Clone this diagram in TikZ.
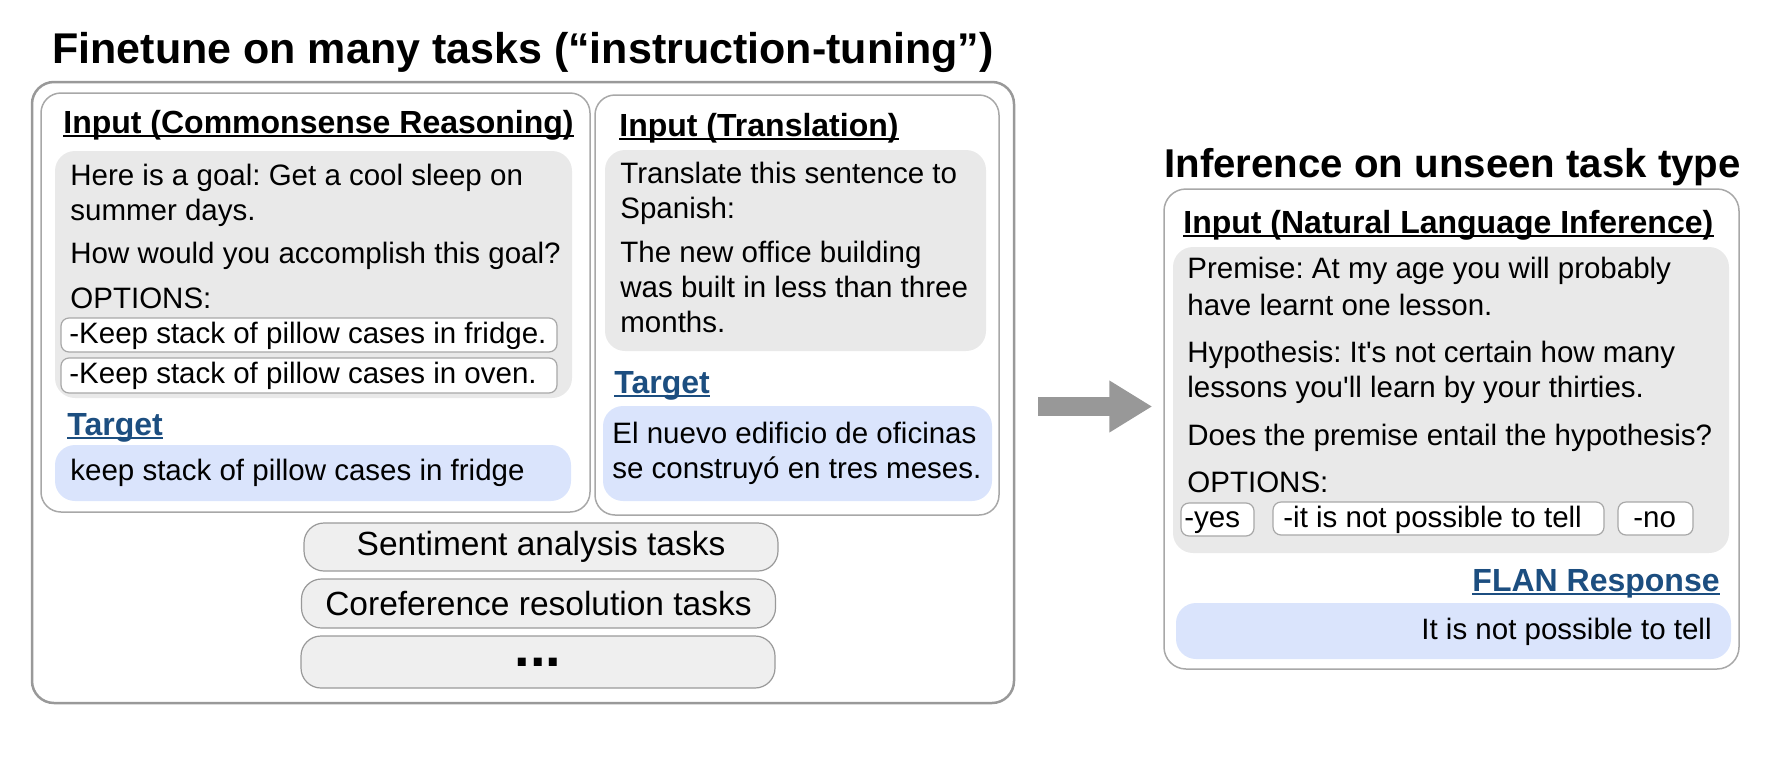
\documentclass[tikz,border=0pt]{standalone}
\usepackage{fontspec}
\setmainfont{Liberation Sans}
\usetikzlibrary{arrows.meta}
\frenchspacing
\definecolor{framegray}{RGB}{153,153,153}
\definecolor{panelgray}{RGB}{168,168,168}
\definecolor{inputfill}{RGB}{233,233,233}
\definecolor{targetfill}{RGB}{218,228,252}
\definecolor{taskfill}{RGB}{239,239,239}
\definecolor{targetblue}{RGB}{28,78,128}
\definecolor{arrowgray}{RGB}{152,152,152}
\tikzset{
  bigframe/.style={draw=framegray,line width=1.25pt,rounded corners=11pt},
  panel/.style={draw=panelgray,line width=0.75pt,rounded corners=10pt},
  inputbox/.style={fill=inputfill,rounded corners=10pt},
  targetbox/.style={fill=targetfill,rounded corners=10pt},
  optbox/.style={draw=panelgray,fill=white,line width=0.6pt,rounded corners=4pt},
  taskbox/.style={draw=framegray,fill=taskfill,line width=0.6pt,rounded corners=10pt,minimum width=237pt,minimum height=24pt,font=\fontsize{16.75}{20}\selectfont},
  txt/.style={anchor=base west,inner sep=0pt,font=\fontsize{14.75}{17}\selectfont},
  heading/.style={anchor=base west,inner sep=0pt,font=\fontsize{16}{19}\selectfont\bfseries},
  title/.style={anchor=base west,inner sep=0pt,font=\fontsize{21.5}{25}\selectfont\bfseries},
  uline/.style={line width=1.1pt},
}
\begin{document}
\begin{tikzpicture}[x=0.5pt,y=-0.5pt]
  \useasboundingbox (0,0) rectangle (1782,766);
  % Finetune side
  \node[title] (tunetitle) at (52,63) {Finetune on many tasks (“instruction-tuning”)};
  \node[bigframe,minimum width=491pt,minimum height=310.5pt] (tune) at (523,392.5) {};
  \draw[panel] (41,93) rectangle (590,512); % Commonsense
  \draw[panel] (595,95) rectangle (999,515); % Translation

  \node[heading] (csr) at (63,133) {Input (Commonsense Reasoning)};
  \draw[uline] ([yshift=-1.5pt]csr.base west) -- ([yshift=-1.5pt]csr.base east);
  \fill[inputbox] (55,151) rectangle (572,398);
  \node[txt] (goala) at (70,185) {Here is a goal: Get a cool sleep on};
  \node[txt] (goalb) at (70,220) {summer days.};
  \node[txt] (howq) at (70,263) {How would you accomplish this goal?};
  \node[txt] (optsa) at (70,308) {OPTIONS:};
  \filldraw[optbox] (61,318) rectangle (557,352);
  \node[txt] (fridge) at (69,343) {-Keep stack of pillow cases in fridge.};
  \filldraw[optbox] (61,358) rectangle (557,393);
  \node[txt] (oven) at (69,383) {-Keep stack of pillow cases in oven.};
  \node[heading,text=targetblue] (tgta) at (67,435) {Target};
  \draw[uline,targetblue] ([yshift=-1.5pt]tgta.base west) -- ([yshift=-1.5pt]tgta.base east);
  \fill[targetbox] (55,445) rectangle (571,501);
  \node[txt] (ansa) at (70,480) {keep stack of pillow cases in fridge};

  \node[heading] (trl) at (619,136) {Input (Translation)};
  \draw[uline] ([yshift=-1.5pt]trl.base west) -- ([yshift=-1.5pt]trl.base east);
  \fill[inputbox] (605,150) rectangle (986,351);
  \node[txt] (trla) at (620,183) {Translate this sentence to};
  \node[txt] (trlb) at (620,218) {Spanish:};
  \node[txt] (trlc) at (620,262) {The new office building};
  \node[txt] (trld) at (620,297) {was built in less than three};
  \node[txt] (trle) at (620,332) {months.};
  \node[heading,text=targetblue] (tgtb) at (614,393) {Target};
  \draw[uline,targetblue] ([yshift=-1.5pt]tgtb.base west) -- ([yshift=-1.5pt]tgtb.base east);
  \fill[targetbox] (603,406) rectangle (992,501);
  \node[txt] (ansb) at (612,443) {El nuevo edificio de oficinas};
  \node[txt] (ansc) at (612,478) {se construyó en tres meses.};

  \node[taskbox] (senti) at (541,547) {Sentiment analysis tasks};
  \node[taskbox,minimum height=24.5pt] (coref) at (538.5,603.5) {Coreference resolution tasks};
  \node[taskbox,minimum height=26pt] (more) at (538,662) {\fontsize{28}{30}\selectfont\bfseries\raisebox{-1.5pt}{...}};

  % Inference side
  \node[title,font=\fontsize{20.1}{24}\selectfont\bfseries] (infertitle) at (1164,177) {Inference on unseen task type};
  \node[panel,rounded corners=11pt,minimum width=287.5pt,minimum height=240pt] (infer) at (1451.5,429) {};
  \node[heading] (nli) at (1183,233) {Input (Natural Language Inference)};
  \draw[uline] ([yshift=-1.5pt]nli.base west) -- ([yshift=-1.5pt]nli.base east);
  \fill[inputbox] (1173,247) rectangle (1729,553);
  \node[txt] (prema) at (1187,278) {Premise: At my age you will probably};
  \node[txt] (premb) at (1187,315) {have learnt one lesson.};
  \node[txt] (hypa) at (1187,362) {Hypothesis: It\textquotesingle s not certain how many};
  \node[txt] (hypb) at (1187,397) {lessons you\textquotesingle ll learn by your thirties.};
  \node[txt] (doesq) at (1187,445) {Does the premise entail the hypothesis?};
  \node[txt] (optsb) at (1187,492) {OPTIONS:};
  \filldraw[optbox] (1181,503) rectangle (1254,536);
  \node[txt] (yes) at (1184,527) {-yes};
  \filldraw[optbox] (1273,502) rectangle (1604,535);
  \node[txt] (maybe) at (1283,527) {-it is not possible to tell};
  \filldraw[optbox] (1618,502) rectangle (1693,535);
  \node[txt] (no) at (1633,527) {-no};
  \node[heading,anchor=base east,text=targetblue] (flan) at (1720,591) {FLAN Response};
  \draw[uline,targetblue] ([yshift=-1.5pt]flan.base west) -- ([yshift=-1.5pt]flan.base east);
  \fill[targetbox] (1176,603) rectangle (1731,659);
  \node[txt,anchor=base east] (pred) at (1712,639) {It is not possible to tell};

  % Arrow
  \coordinate (arrowmid) at (0,406.5);
  \draw[arrowgray,line width=9.5pt,-{Triangle[length=21.5pt,width=24.5pt]},shorten <=11.5pt,shorten >=5.5pt] (tune.east |- arrowmid) -- (infer.west |- arrowmid);
\end{tikzpicture}
\end{document}
